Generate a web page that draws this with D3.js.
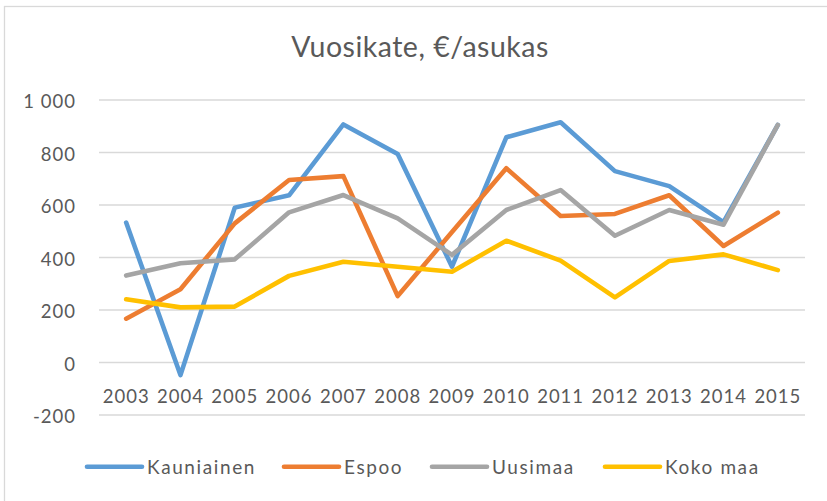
<!DOCTYPE html>
<html>
<head>
<meta charset="utf-8">
<script src="https://cdn.jsdelivr.net/npm/d3@7"></script>
<style>
  html, body { margin: 0; padding: 0; background: #fff; }
  svg { display: block; font-family: Lato, "Open Sans", sans-serif; }
</style>
</head>
<body>
<svg id="chart" width="827" height="501"></svg>
<script>
const title = "Vuosikate, €/asukas";
const years = ["2003","2004","2005","2006","2007","2008","2009","2010","2011","2012","2013","2014","2015"];
const yTicks = [-200, 0, 200, 400, 600, 800, 1000];
const seriesNames = ["Kauniainen", "Espoo", "Uusimaa", "Koko maa"];
const kauniainen = [533, -48, 590, 637, 907, 794, 365, 858, 915, 729, 672, 535, 905];
const espoo      = [167, 279, 530, 695, 710, 253, 497, 740, 558, 566, 637, 444, 571];
const uusimaa    = [331, 378, 393, 572, 638, 549, 410, 581, 657, 483, 581, 525, 905];
const kokoMaa    = [241, 210, 213, 330, 384, 365, 346, 464, 388, 248, 387, 412, 352];
const colors = ["#5B9BD5", "#ED7D31", "#A5A5A5", "#FFC000"];

const seriesValues = [kauniainen, espoo, uusimaa, kokoMaa];
const series = seriesNames.map((name, i) => ({ name, values: seriesValues[i], color: colors[i] }));

const svg = d3.select("#chart");
const textColor = "#595959";
const gridColor = "#D9D9D9";

// chart area border
svg.append("rect")
  .attr("x", 4.5).attr("y", 6.5)
  .attr("width", 840).attr("height", 520)
  .attr("fill", "none").attr("stroke", gridColor).attr("stroke-width", 1.3);

const x = d3.scaleBand().domain(years).range([99, 805]).padding(0);
const y = d3.scaleLinear().domain([-200, 1000]).range([415, 100]);

// gridlines
svg.append("g").selectAll("line").data(yTicks).join("line")
  .attr("x1", 99).attr("x2", 805)
  .attr("y1", d => y(d)).attr("y2", d => y(d))
  .attr("stroke", gridColor).attr("stroke-width", 1.3);

// title
svg.append("text")
  .attr("x", 420).attr("y", 57)
  .attr("text-anchor", "middle")
  .attr("fill", textColor)
  .attr("font-size", 28.5)
  .attr("letter-spacing", 0.5)
  .text(title);

// y axis
const loc = d3.formatLocale({ decimal: ",", thousands: " ", grouping: [3], currency: ["", "€"], minus: "-" });
const fmt = loc.format(",d");
const yAxis = d3.axisLeft(y).tickValues(yTicks).tickSize(0).tickPadding(23).tickFormat(fmt);
const gy = svg.append("g").attr("transform", "translate(99,0)").call(yAxis);
gy.select(".domain").remove();
gy.selectAll("text")
  .attr("fill", textColor)
  .attr("font-size", 18.5)
  .attr("letter-spacing", 1)
  .attr("font-family", "Lato, sans-serif")
  .attr("dy", "0.42em");

// x axis (labels at zero line)
const xAxis = d3.axisBottom(x).tickSize(0).tickPadding(27);
const gx = svg.append("g").attr("transform", `translate(0,${y(0)})`).call(xAxis);
gx.select(".domain").remove();
gx.selectAll("text")
  .attr("fill", textColor)
  .attr("font-size", 18.5)
  .attr("letter-spacing", 1)
  .attr("font-family", "Lato, sans-serif");

// lines
const line = d3.line()
  .x((d, i) => x(years[i]) + x.bandwidth() / 2)
  .y(d => y(d));

svg.append("g").selectAll("path").data(series).join("path")
  .attr("d", d => line(d.values))
  .attr("fill", "none")
  .attr("stroke", d => d.color)
  .attr("stroke-width", 4.6)
  .attr("stroke-linejoin", "round")
  .attr("stroke-linecap", "round");

// legend
const legendX = [87, 284, 432, 605];
const legendY = 466.7;
const lg = svg.append("g").selectAll("g").data(series).join("g")
  .attr("transform", (d, i) => `translate(${legendX[i]},${legendY})`);
lg.append("line")
  .attr("x1", 0).attr("x2", 55)
  .attr("y1", 0).attr("y2", 0)
  .attr("stroke", d => d.color)
  .attr("stroke-width", 4.6)
  .attr("stroke-linecap", "round");
lg.append("text")
  .attr("x", 60).attr("y", 0).attr("dy", "0.36em")
  .attr("fill", textColor)
  .attr("font-size", 19)
  .attr("letter-spacing", 1.6)
  .text(d => d.name);
</script>
</body>
</html>
